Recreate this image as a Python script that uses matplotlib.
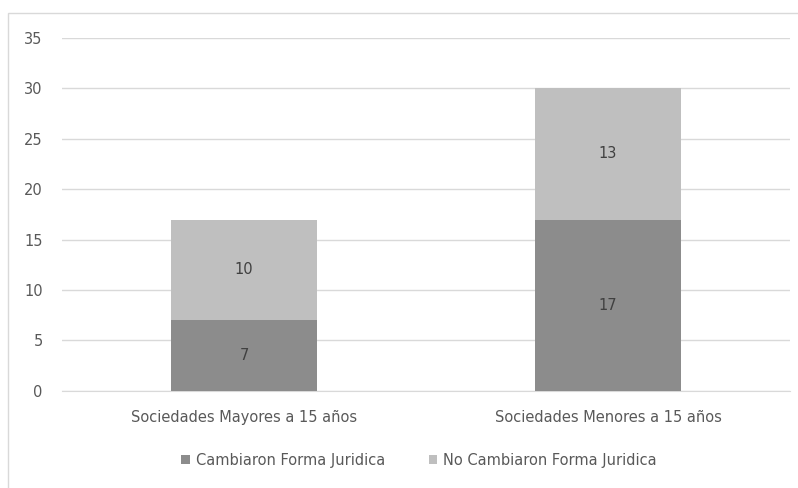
import numpy as np
import matplotlib.pyplot as plt
from matplotlib.patches import Rectangle

categories = ['Sociedades Mayores a 15 años', 'Sociedades Menores a 15 años']
cambiaron = [7, 17]
no_cambiaron = [10, 13]
series_names = ['Cambiaron Forma Juridica', 'No Cambiaron Forma Juridica']

dark = '#8c8c8c'
light = '#bfbfbf'
txt = '#595959'

fig = plt.figure(figsize=(7.98, 4.88), dpi=100)
ax = fig.add_axes([0.078, 0.199, 0.912, 0.723])

# chart frame
fig.patches.append(Rectangle((8 / 798, -0.05), 1.0, 1 - 13 / 488 + 0.05,
                             transform=fig.transFigure, fill=False,
                             edgecolor='#d9d9d9', linewidth=1.0))

x = np.arange(len(categories))
b1 = ax.bar(x, cambiaron, width=0.4, color=dark, label=series_names[0], zorder=3)
b2 = ax.bar(x, no_cambiaron, width=0.4, bottom=cambiaron, color=light,
            label=series_names[1], zorder=3)

for bars, vals, bottoms in [(b1, cambiaron, [0, 0]), (b2, no_cambiaron, cambiaron)]:
    for rect, v, b in zip(bars, vals, bottoms):
        ax.text(rect.get_x() + rect.get_width() / 2, b + v / 2, str(v),
                ha='center', va='center', fontsize=10.5, color='#404040', zorder=4)

ax.set_xlim(-0.5, 1.5)
ax.set_ylim(0, 35)
ax.set_yticks(range(0, 36, 5))
ax.yaxis.grid(True, color='#d9d9d9', linewidth=1.0, zorder=0)
ax.set_xticks(x)
ax.set_xticklabels(categories)
ax.tick_params(axis='both', length=0, labelsize=10.5, colors=txt)
ax.tick_params(axis='x', pad=14)
ax.tick_params(axis='y', pad=14)
for s in ['top', 'right', 'left']:
    ax.spines[s].set_visible(False)
ax.spines['bottom'].set_color('#d9d9d9')

ax.legend(loc='center', bbox_to_anchor=(0.49, -0.196), ncol=2, frameon=False,
          fontsize=10.5, labelcolor=txt, handlelength=0.6, handleheight=0.6,
          handletextpad=0.4, columnspacing=3)

fig.savefig('out.png', dpi=100)
